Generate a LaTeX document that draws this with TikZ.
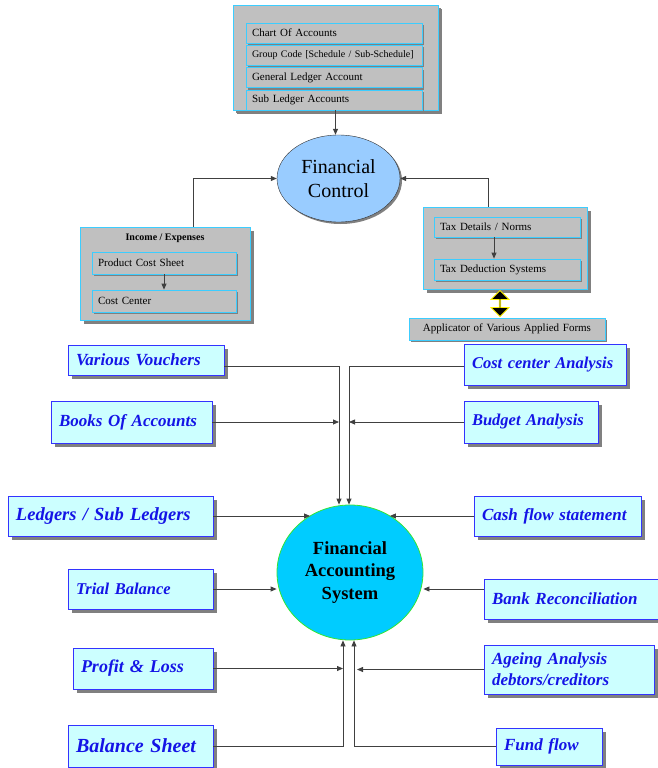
\documentclass[tikz,border=0pt]{standalone}
\usepackage{fontspec}
\setmainfont{Liberation Serif}
\usepackage{xcolor}
\usetikzlibrary{arrows.meta,shapes,shapes.arrows,positioning,shadows,calc}

\definecolor{graybox}{RGB}{192,192,192}
\definecolor{cyanline}{RGB}{60,205,255}
\definecolor{shade}{RGB}{128,128,128}
\definecolor{paleblue}{RGB}{204,255,255}
\definecolor{boxblue}{RGB}{51,51,255}
\definecolor{textblue}{RGB}{20,20,230}
\definecolor{ctrlblue}{RGB}{153,204,255}
\definecolor{sysblue}{RGB}{0,204,255}
\definecolor{sysgreen}{RGB}{51,230,51}

\begin{document}
\begin{tikzpicture}[x=1pt, y=-1pt, >={Triangle[length=6pt,width=5pt]},
  outerbox/.style={draw=cyanline, fill=graybox, line width=0.8pt,
    drop shadow={shadow xshift=4pt, shadow yshift=-4pt, fill=shade, opacity=1}},
  itembox/.style={draw=cyanline, fill=graybox, line width=0.8pt,
    drop shadow={shadow xshift=2pt, shadow yshift=-2pt, fill=shade, opacity=1},
    font=\fontsize{11}{13}\selectfont, align=left, inner xsep=6pt, minimum height=20pt},
  bluebox/.style={draw=boxblue, fill=paleblue, line width=0.8pt, text=textblue,
    drop shadow={shadow xshift=4pt, shadow yshift=-4pt, fill=shade, opacity=1},
    font=\bfseries\itshape\fontsize{#1}{21}\selectfont, align=left, inner xsep=8pt},
  link/.style={->, draw=black!75, line width=0.8pt}]
\useasboundingbox (0,0) rectangle (658,768);

\node[outerbox, minimum width=205pt, minimum height=105pt,
  drop shadow={shadow xshift=3pt, shadow yshift=-3pt, fill=shade, opacity=1}] (acc) at (335.5,57.5) {};
\node[itembox, text width=164pt] (cha) at (334,33) {Chart Of Accounts};
\node[itembox, text width=164pt, below=1.5pt of cha, font=\fontsize{10}{12}\selectfont] (grp) {Group Code [Schedule / Sub-Schedule]};
\node[itembox, text width=164pt, below=1.5pt of grp] (gla) {General Ledger Account};
\node[itembox, text width=164pt, below=1.5pt of gla] (sla) {Sub Ledger Accounts};

\node[ellipse, draw=black!80, fill=ctrlblue, minimum width=123pt, minimum height=87pt, inner sep=0pt, align=center,
  font=\fontsize{20}{24}\selectfont,
  drop shadow={shadow xshift=2pt, shadow yshift=-2pt, fill=shade, opacity=1}] (fc) at (338.5,178.5) {Financial\\Control};

\node[outerbox, minimum width=170pt, minimum height=93pt] (inc) at (165,273.5) {};
\node[font=\bfseries\fontsize{10}{12}\selectfont] (inct) at (165,238) {Income / Expenses};
\node[itembox, text width=132pt, minimum height=22pt] (pcs) at (164,263) {Product Cost Sheet};
\node[itembox, text width=132pt, minimum height=22pt] (cce) at (164,301) {Cost Center};

\node[outerbox, minimum width=164pt, minimum height=82pt] (tax) at (505,248) {};
\node[itembox, text width=134pt] (tdn) at (507,227) {Tax Details / Norms};
\node[itembox, text width=134pt, minimum height=21pt] (tds) at (507,269.5) {Tax Deduction Systems};
\node[itembox, text width=184pt, minimum height=22pt, align=center] (apf) at (507,329) {Applicator of Various Applied Forms};
\node[double arrow, rotate=90, draw=yellow, fill=black, line width=0.8pt, minimum height=26pt, minimum width=18pt,
  double arrow head extend=5pt, double arrow head indent=0pt, inner sep=0pt] (dbl) at ($(tax.south)!0.5!(apf.north)+(-6,0)$) {};

\node[ellipse, draw=sysgreen, fill=sysblue, line width=0.8pt, minimum width=146pt, minimum height=135pt, inner sep=0pt,
  align=center, font=\bfseries\fontsize{18.5}{22.5}\selectfont] (fas) at (350,572.5) {Financial\\Accounting\\System};

\node[bluebox=17, text width=140pt, minimum height=30pt] (vv) at (146,360) {Various Vouchers};
\node[bluebox=17, text width=145pt, minimum height=42pt] (boa) at (131.5,422) {Books Of Accounts};
\node[bluebox=18.5, text width=189pt, minimum height=40pt] (lsl) at (110.5,516) {Ledgers / Sub Ledgers};
\node[bluebox=16.5, text width=129pt, minimum height=40pt] (tb) at (140.5,589) {Trial Balance};
\node[bluebox=18, text width=124pt, minimum height=41pt] (pl) at (143,668.5) {Profit \& Loss};
\node[bluebox=20, text width=129pt, minimum height=42pt] (bs) at (140.5,746) {Balance Sheet};

\node[bluebox=16.5, text width=146pt, minimum height=41pt] (cca) at (545,364.5) {Cost center Analysis};
\node[bluebox=16.5, text width=118pt, minimum height=42pt] (bua) at (531,422) {Budget Analysis};
\node[bluebox=17, text width=151pt, minimum height=40pt] (cfs) at (557.5,516) {Cash flow statement};
\node[bluebox=17, text width=158pt, minimum height=40pt] (br) at (571,599) {Bank Reconciliation};
\node[bluebox=17, text width=154pt, minimum height=49pt] (aa) at (569,669.5) {Ageing Analysis\\debtors/creditors};
\node[bluebox=17, text width=90pt, minimum height=37pt] (ff) at (549,746.5) {Fund flow};

\coordinate (vtl) at ([xshift=-11pt]fas.north);
\coordinate (vtr) at ([xshift=-1pt]fas.north);
\coordinate (vbl) at ([xshift=-7pt]fas.south);
\coordinate (vbr) at ([xshift=4pt]fas.south);
\coordinate (brw) at ([yshift=10pt]br.west);

\draw[link] (acc.south) -- (acc.south |- fc.north);
\draw[link] ([xshift=28pt]inc.north) |- (fc.west);
\draw[link] ([xshift=-17pt]tax.north) |- (fc.east);
\draw[link] (pcs) -- (cce);
\draw[link] ([xshift=-13pt]tdn.south) -- ([xshift=-13pt]tds.north);

\draw[link] ([yshift=-6pt]vv.east) -| (vtl);
\draw[link] ([yshift=-1.5pt]cca.west) -| (vtr);
\draw[link] (boa.east) -- (boa.east -| vtl);
\draw[link] (bua.west) -- (bua.west -| vtr);
\draw[link] (lsl.east) -- (lsl.east -| fas.125);
\draw[link] (cfs.west) -- (cfs.west -| fas.55);
\draw[link] (tb.east) -- (tb.east -| fas.west);
\draw[link] (brw) -- (brw -| fas.east);
\draw[link] (pl.east) -- (pl.east -| vbl);
\draw[link] (aa.west) -- ($(aa.west -| vbr)+(3,0)$);
\draw[link] (bs.east) -| (vbl);
\draw[link] (ff.west) -| (vbr);
\end{tikzpicture}
\end{document}
